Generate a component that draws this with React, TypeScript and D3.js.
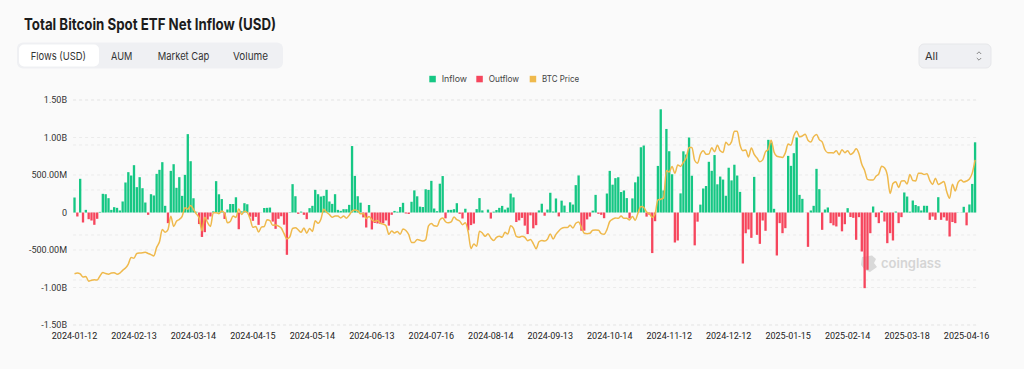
import React from 'react';
import * as d3 from 'd3';

// x axis labels, one every 21 trading days
const tickLabels = [
  '2024-01-12', '2024-02-13', '2024-03-14', '2024-04-15', '2024-05-14', '2024-06-13',
  '2024-07-16', '2024-08-14', '2024-09-13', '2024-10-14', '2024-11-12', '2024-12-12',
  '2025-01-15', '2025-02-14', '2025-03-18', '2025-04-16',
];
const tickEvery = 21;

const flowTicks = [1.5e9, 1e9, 5e8, 0, -5e8, -1e9, -1.5e9];
const priceTicks = [20, 40, 60, 80, 100, 120]; // hidden right axis, k USD

// daily net flow, USD millions (2024-01-12 .. 2025-04-22)
const flows = [
  200, -53, 449, -133, 35, -89, -107, -164, -84, 8,
  249, 244, 191, 35, 71, 62, 27, 147, 400, 538,
  493, 631, 338, 471, 324, 133, -31, 244, 227, 515,
  569, 671, 89, -142, 555, 644, 329, 471, 222, 502,
  1045, 684, 190, 10, -154, -326, -262, -94, -53, 15,
  418, 243, 179, -86, 40, 113, 113, 203, -223, 15,
  124, 110, -56, -111, -58, -165, 0, 60, 62, 66,
  -121, -218, -84, -50, -162, -564, 4, 378, 217, -18,
  12, -31, -89, 58, 89, 302, 244, 213, 222, 302,
  147, 115, 244, 35, 22, 44, 44, 102, 886, 488,
  217, 131, -65, -200, 100, -226, -140, -146, -152, -140,
  -106, -175, -31, 21, 11, 73, 129, -13, -20, 143,
  295, 216, 78, 73, 310, 301, 422, 53, 18, 384,
  486, -78, 35, 35, 44, 124, -18, -80, 50, -237,
  -168, -148, 45, 192, 28, 0, 39, -81, 11, 33,
  62, 88, 39, 65, 252, 202, -127, -105, -72, -175,
  -288, -38, -211, -169, 28, 117, -43, 39, 263, 13,
  187, -52, 158, 92, 4, 136, 106, 365, 494, -243,
  -242, -92, -55, 25, 235, -18, -31, -76, 253, 555,
  371, 458, 470, 273, 294, 192, -79, 188, 402, 479,
  870, 893, -55, -30, -541, -116, 621, 1376, 294, 1114,
  817, 510, -400, -373, 255, 816, 773, 1000, 490, -438,
  -122, 105, 320, 353, 676, 556, 766, 376, 479, 439,
  223, 597, 428, 637, 493, 275, -680, -277, -226, -338,
  475, -298, -418, -107, -244, 969, 933, 49, -573, -142,
  -276, -209, 755, 622, 791, 1000, 235, 182, 0, -458,
  27, 89, 582, 311, -231, 40, 67, -142, -171, -186,
  -56, -251, -156, 58, -60, -71, -364, -62, -520, -1009,
  -764, -276, 80, -62, -142, 22, -120, -409, -276, -373,
  13, -142, -62, 267, 213, 11, 160, 100, 84, 27,
  90, 89, -98, -53, -98, 204, -98, -64, -109, -320,
  -127, -142, 2, 1.5, 76, -171, 107, 381, 936,
];

// BTC close, k USD, same days
const btcPrice = [
  42.8, 43.1, 42.7, 41.3, 41.6, 39.5, 39.9, 40.1, 40.0, 41.8,
  43.3, 42.9, 42.6, 43.1, 43.2, 42.6, 43.1, 44.3, 45.3, 47.1,
  50.0, 49.7, 51.8, 52.0, 52.1, 52.3, 51.8, 51.3, 50.7, 54.5,
  57.0, 62.5, 61.2, 62.4, 68.3, 63.8, 66.1, 66.9, 68.3, 72.1,
  71.5, 73.1, 71.4, 69.4, 67.6, 61.9, 67.9, 65.5, 63.8, 69.9,
  69.9, 69.5, 70.7, 69.7, 65.4, 66.0, 68.5, 67.8, 71.6, 69.1,
  70.6, 70.0, 67.2, 63.4, 63.8, 61.3, 63.5, 63.8, 66.8, 66.4,
  64.3, 64.5, 64.0, 63.1, 60.6, 58.3, 59.1, 62.9, 63.2, 62.3,
  61.2, 63.1, 60.8, 62.9, 61.6, 66.3, 65.2, 67.0, 71.4, 70.1,
  69.1, 67.9, 68.5, 68.4, 67.6, 68.4, 67.5, 68.8, 70.6, 71.1,
  70.8, 69.4, 69.6, 67.3, 68.2, 66.8, 66.0, 66.5, 65.2, 64.9,
  64.1, 60.3, 61.8, 60.9, 61.6, 60.3, 62.7, 62.0, 60.2, 56.7,
  56.7, 58.0, 57.7, 57.3, 57.9, 64.1, 65.1, 64.1, 63.9, 66.7,
  67.6, 65.9, 65.4, 65.8, 68.0, 66.8, 66.2, 64.6, 65.4, 61.4,
  54.0, 56.0, 55.0, 61.7, 60.9, 59.4, 60.6, 58.7, 57.6, 58.9,
  59.4, 59.0, 61.2, 60.4, 64.1, 62.9, 59.4, 59.0, 59.4, 59.0,
  57.5, 58.0, 56.2, 53.9, 57.0, 57.6, 57.3, 58.1, 60.5, 58.2,
  60.3, 61.8, 62.9, 63.3, 63.3, 64.3, 63.1, 65.2, 65.8, 63.3,
  60.8, 60.6, 60.8, 62.1, 62.2, 62.1, 60.6, 60.3, 62.4, 66.0,
  67.0, 67.6, 67.4, 68.4, 67.4, 67.4, 66.7, 68.2, 66.6, 69.9,
  72.7, 72.3, 70.2, 69.5, 67.8, 69.4, 75.6, 75.9, 76.5, 88.7,
  88.0, 90.5, 87.4, 91.1, 90.5, 92.3, 94.3, 98.9, 98.9, 93.1,
  91.9, 95.9, 97.5, 95.9, 96.0, 98.8, 97.0, 99.9, 97.4, 96.7,
  101.2, 100.0, 101.4, 106.1, 106.1, 100.0, 97.5, 97.8, 94.7, 98.7,
  95.8, 94.2, 92.6, 93.4, 97.0, 98.1, 102.1, 96.9, 95.0, 94.7,
  94.5, 96.5, 100.5, 99.9, 104.1, 106.1, 103.7, 104.0, 104.8, 102.1,
  101.3, 103.7, 104.7, 102.4, 101.4, 97.9, 96.6, 96.6, 96.5, 97.4,
  95.7, 97.9, 96.6, 97.5, 95.8, 96.6, 98.3, 96.1, 91.4, 88.7,
  84.7, 84.4, 84.4, 86.1, 87.2, 90.6, 89.9, 86.7, 78.5, 82.9,
  83.7, 81.1, 84.0, 84.1, 82.7, 86.9, 84.2, 84.0, 87.5, 87.5,
  86.9, 87.2, 84.3, 82.5, 85.2, 82.5, 83.1, 83.8, 79.2, 76.3,
  82.6, 79.6, 83.4, 84.5, 83.6, 84.0, 84.9, 87.5, 93.4,
];

const tabs = ['Flows (USD)', 'AUM', 'Market Cap', 'Volume'];
const tabX = [30.7, 111, 157.7, 233];
const tabW = [55.3, 21.3, 51.6, 35];

const legendItems = [
  { label: 'Inflow', color: '#16c784', sx: 429.3, w: 25.3 },
  { label: 'Outflow', color: '#f6465d', sx: 476.3, w: 30.3 },
  { label: 'BTC Price', color: '#efb94c', sx: 529.7, w: 37 },
];

const GREEN = '#16c784';
const RED = '#f6465d';
const GOLD = '#efb94c';

const left = 73.1;
const right = 976.5;
const top = 100;
const bottom = 325;

function fmtFlow(v: number) {
  if (v === 0) return '0';
  if (Math.abs(v) >= 1e9) return (v / 1e9).toFixed(2) + 'B';
  return (v / 1e6).toFixed(2) + 'M';
}

export default function App() {
  const idx = flows.map((_, i) => i);
  const x = d3.scaleBand<number>().domain(idx).range([left, right]).paddingInner(0.18).paddingOuter(0.09);
  const y = d3.scaleLinear().domain([-1.5e9, 1.5e9]).range([bottom, top]);
  const yp = d3.scaleLinear().domain([20, 120]).range([bottom, top]);
  const y0 = y(0);
  const cx = (i: number) => (x(i) || 0) + x.bandwidth() / 2;

  const line = d3.line<number>()
    .x((_, i) => cx(i))
    .y(d => yp(d))
    .curve(d3.curveMonotoneX);

  return (
    <svg width={1024} height={369} style={{ position: 'absolute', left: 0, top: 0, background: '#fafafa' }}
      fontFamily="Inter, 'Noto Sans', sans-serif">
      <rect width={1024} height={369} fill="#fafafa" />
      <text x={24} y={30} fontSize={15.5} fontWeight={700} fill="#1c1c1c"
        textLength={252} lengthAdjust="spacingAndGlyphs">Total Bitcoin Spot ETF Net Inflow (USD)</text>

      {/* tabs */}
      <rect x={17} y={42.5} width={266} height={26} rx={6} fill="#eff0f3" />
      <rect x={19} y={44.5} width={80} height={22} rx={5} fill="#ffffff" />
      {tabs.map((t, i) => (
        <text key={t} x={tabX[i]} y={60} fontSize={11} fill="#333"
          textLength={tabW[i]} lengthAdjust="spacingAndGlyphs">{t}</text>
      ))}

      {/* range select */}
      <rect x={919} y={44} width={72} height={24} rx={5} fill="#eff0f3" stroke="#e6e7ea" />
      <text x={925} y={60} fontSize={11} fill="#333">All</text>
      <path d="M976.8,54 L979,51.8 L981.2,54 M976.8,58 L979,60.2 L981.2,58" fill="none" stroke="#888" strokeWidth={1} />

      {/* legend */}
      {legendItems.map(d => (
        <g key={d.label}>
          <rect x={d.sx} y={75.8} width={6.5} height={6.5} fill={d.color} />
          <text x={d.sx + 12.4} y={82.3} fontSize={9} fill="#444"
            textLength={d.w} lengthAdjust="spacingAndGlyphs">{d.label}</text>
        </g>
      ))}

      {/* grid */}
      {flowTicks.map(t => (
        <line key={'f' + t} x1={left} x2={right} y1={y(t)} y2={y(t)} stroke="#ebebeb" strokeDasharray="3,3" />
      ))}
      {priceTicks.map(t => (
        <line key={'p' + t} x1={left} x2={right} y1={yp(t)} y2={yp(t)} stroke="#ebebeb" strokeDasharray="3,3" />
      ))}

      {/* y labels */}
      {flowTicks.map(t => (
        <text key={'l' + t} x={67} y={y(t)} dy="0.35em" fontSize={9} fill="#333" textAnchor="end"
          fontFamily="Roboto, sans-serif">{fmtFlow(t)}</text>
      ))}

      {/* x labels */}
      {tickLabels.map((t, k) => (
        <text key={t} x={cx(k * tickEvery)} y={339} fontSize={9} fill="#222" textAnchor="middle"
          fontFamily="Roboto, sans-serif">{t}</text>
      ))}

      {/* watermark */}
      <g opacity={0.9}>
        <path d="M862,257 L872,255.5 L876,259 L874,263 L877,267 L870,272 L865,270 L861,265 Z" fill="#d6d6d6" />
        <text x={881} y={267.5} fontSize={13} fontWeight={600} fill="#d2d2d2">coinglass</text>
      </g>

      {/* bars */}
      {flows.map((v, i) => {
        const yv = y(v * 1e6);
        return (
          <rect key={i} x={x(i)} width={x.bandwidth()} y={Math.min(yv, y0)} height={Math.abs(yv - y0)}
            fill={v >= 0 ? GREEN : RED} />
        );
      })}

      {/* price line */}
      <path d={line(btcPrice) || ''} fill="none" stroke={GOLD} strokeWidth={1.5} />
    </svg>
  );
}
